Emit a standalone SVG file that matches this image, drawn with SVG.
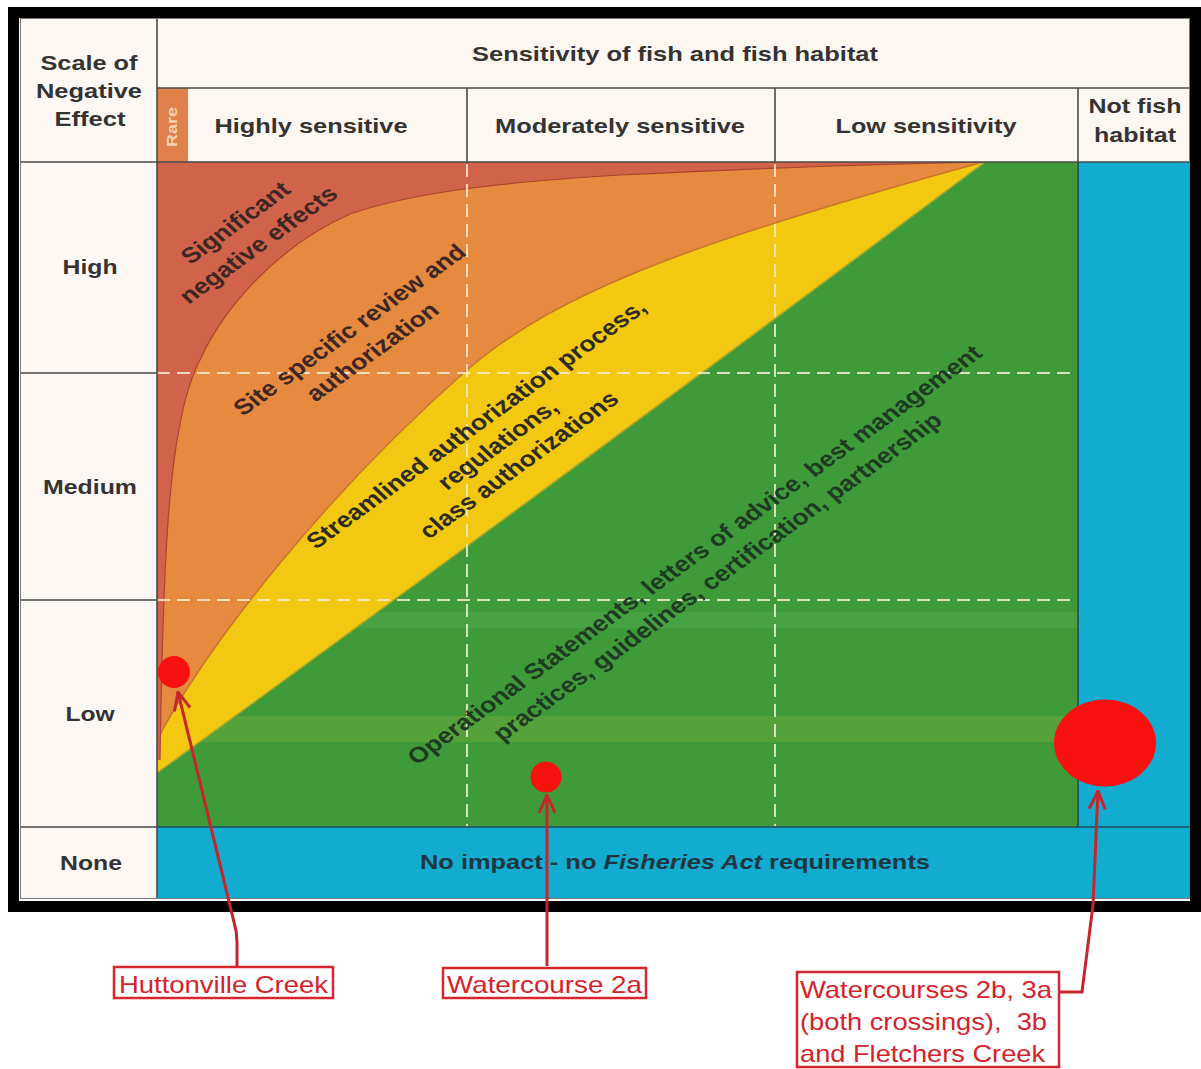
<svg xmlns="http://www.w3.org/2000/svg" width="1201" height="1069" viewBox="0 0 1201 1069">
<defs>
<style>
.hd{font-family:"Liberation Sans",Arial,sans-serif;font-weight:bold;font-size:21px;fill:#333;text-anchor:middle}
.rot{font-family:"Liberation Sans",Arial,sans-serif;font-weight:bold;font-size:22px;text-anchor:middle}
.lbl{font-family:"Liberation Sans",Arial,sans-serif;font-size:24px;fill:#d4232b;white-space:pre}
.grid{stroke:#4a4a4a;stroke-width:1.6;fill:none}
.dash{stroke:#f5ecd2;stroke-width:2;stroke-dasharray:13 7;opacity:.85;fill:none}
.site{fill:#fb1010}
.box{fill:#fff;stroke:#d9262e;stroke-width:2.5}
.conn{fill:none;stroke:#c4262b;stroke-width:3;marker-end:url(#ah)}
</style>
<marker id="ah" viewBox="0 0 20 20" refX="19" refY="10" markerWidth="20" markerHeight="20" markerUnits="userSpaceOnUse" orient="auto"><path d="M1,2 L19,10 L1,18" fill="none" stroke="#c4262b" stroke-width="3"/></marker>
<clipPath id="plot"><rect x="157" y="162" width="921" height="665"/></clipPath>
</defs>

<rect width="1201" height="1069" fill="#fff"/>

<!-- header and left column backgrounds -->
<g id="table-bg">
<rect x="20" y="18" width="1170" height="144" fill="#fdf7f1"/>
<rect x="20" y="18" width="137" height="881" fill="#fdf8f3"/>
<rect x="157" y="88" width="31" height="74" fill="#e0804a"/>
</g>

<!-- management zones -->
<g id="zones" clip-path="url(#plot)">
<rect x="157" y="162" width="921" height="665" fill="#3f9b3a"/>
<rect x="157" y="612" width="921" height="16" fill="#6cc070" opacity=".18"/>
<rect x="157" y="716" width="921" height="26" fill="#9bb83a" opacity=".25"/>
<path d="M157,773 Q560,480 985,162 L157,162 Z" fill="#f2c811"/>
<path d="M157,740 C210,640 330,490 467,370 C560,290 700,240 983,162 L157,162 Z" fill="#e58a3e"/>
<path d="M160,760 C163,560 168,420 200,360 C225,305 280,245 350,214 C420,190 520,181 620,175 C760,168 880,164 985,162 L157,162 L157,760 Z" fill="#d06349"/>
<path d="M157,773 Q560,480 985,162" fill="none" stroke="#a8a72a" stroke-width="1.5"/>
<path d="M157,740 C210,640 330,490 467,370 C560,290 700,240 983,162" fill="none" stroke="#c9742c" stroke-width="1.5"/>
<path d="M160,760 C163,560 168,420 200,360 C225,305 280,245 350,214 C420,190 520,181 620,175 C760,168 880,164 985,162" fill="none" stroke="#a9452f" stroke-width="1.2"/>
</g>

<!-- not fish habitat / no impact -->
<g id="no-impact">
<rect x="1078" y="162" width="112" height="665" fill="#12acd0"/>
<rect x="157" y="827" width="1033" height="72" fill="#12acd0"/>
</g>

<!-- dashed category guides -->
<g id="guides">
<line class="dash" x1="157" y1="373" x2="1076" y2="373"/>
<line class="dash" x1="157" y1="600" x2="1076" y2="600"/>
<line class="dash" x1="467" y1="164" x2="467" y2="826"/>
<line class="dash" x1="775" y1="164" x2="775" y2="826"/>
</g>

<!-- table rules -->
<g id="grid">
<line class="grid" x1="157" y1="18" x2="157" y2="899"/>
<line class="grid" x1="157" y1="88" x2="1190" y2="88"/>
<line class="grid" x1="20" y1="162" x2="1190" y2="162"/>
<line class="grid" x1="467" y1="88" x2="467" y2="162"/>
<line class="grid" x1="775" y1="88" x2="775" y2="162"/>
<line class="grid" x1="1078" y1="88" x2="1078" y2="162"/>
<line class="grid" x1="20" y1="373" x2="157" y2="373"/>
<line class="grid" x1="20" y1="600" x2="157" y2="600"/>
<line class="grid" x1="20" y1="827" x2="157" y2="827"/>
<line x1="157" y1="827" x2="1190" y2="827" stroke="#1d4f5c" stroke-width="1.6"/>
<line x1="1078" y1="162" x2="1078" y2="827" stroke="#1f4f45" stroke-width="1.6"/>
<rect x="20.5" y="18.5" width="1169" height="880" fill="none" stroke="#777" stroke-width="1"/>
<rect x="13.5" y="12.5" width="1182" height="894" fill="none" stroke="#000" stroke-width="11"/>
</g>

<!-- headings -->
<g id="headings">
<text class="hd" x="89" y="70" textLength="97" lengthAdjust="spacingAndGlyphs">Scale of</text>
<text class="hd" x="89" y="98" textLength="106" lengthAdjust="spacingAndGlyphs">Negative</text>
<text class="hd" x="90" y="126" textLength="71" lengthAdjust="spacingAndGlyphs">Effect</text>
<text class="hd" x="675" y="61" textLength="406" lengthAdjust="spacingAndGlyphs">Sensitivity of fish and fish habitat</text>
<text class="hd" x="311" y="133" textLength="193" lengthAdjust="spacingAndGlyphs">Highly sensitive</text>
<text class="hd" x="620" y="133" textLength="250" lengthAdjust="spacingAndGlyphs">Moderately sensitive</text>
<text class="hd" x="926" y="133" textLength="181" lengthAdjust="spacingAndGlyphs">Low sensitivity</text>
<text class="hd" x="1135" y="113" textLength="93" lengthAdjust="spacingAndGlyphs">Not fish</text>
<text class="hd" x="1135" y="142" textLength="82" lengthAdjust="spacingAndGlyphs">habitat</text>
<text class="hd" transform="translate(177,127) rotate(-90)" style="font-size:14px;fill:#f6d2b6" textLength="40" lengthAdjust="spacingAndGlyphs">Rare</text>
<text class="hd" x="90" y="274" textLength="55" lengthAdjust="spacingAndGlyphs">High</text>
<text class="hd" x="90" y="494" textLength="94" lengthAdjust="spacingAndGlyphs">Medium</text>
<text class="hd" x="90" y="721" textLength="49" lengthAdjust="spacingAndGlyphs">Low</text>
<text class="hd" x="91" y="870" textLength="62" lengthAdjust="spacingAndGlyphs">None</text>
<text class="hd" transform="translate(675,869) scale(1.21,1)" style="fill:#1f3540">No impact - no <tspan font-style="italic">Fisheries Act</tspan> requirements</text>
</g>

<!-- zone descriptions -->
<g id="zone-text">
<g transform="translate(246,233) scale(1.2,1) rotate(-41)" fill="#3e2624">
<text class="rot" x="0" y="-6">Significant</text>
<text class="rot" x="0" y="23">negative effects</text>
</g>
<g transform="translate(360,340) scale(1.2,1) rotate(-41)" fill="#3e2624">
<text class="rot" x="0" y="-6">Site specific review and</text>
<text class="rot" x="0" y="23">authorization</text>
</g>
<g transform="translate(497,444) scale(1.2,1) rotate(-41)" fill="#2d2a20">
<text class="rot" x="0" y="-19">Streamlined authorization process,</text>
<text class="rot" x="0" y="8">regulations,</text>
<text class="rot" x="0" y="35">class authorizations</text>
</g>
<g transform="translate(705,565) scale(1.2,1) rotate(-41)" fill="#1e3a22">
<text class="rot" x="0" y="-6">Operational Statements, letters of advice, best management</text>
<text class="rot" x="0" y="23">practices, guidelines, certification, partnership</text>
</g>
</g>

<!-- crossing sites -->
<g id="site-huttonville"><circle class="site" cx="174" cy="672" r="16"/></g>
<g id="site-2a"><circle class="site" cx="546" cy="777" r="15.5"/></g>
<g id="site-2b-3a-3b"><ellipse class="site" cx="1105" cy="743" rx="51" ry="43.5"/></g>

<!-- site labels -->
<g id="label-huttonville">
<rect class="box" x="114" y="967" width="219" height="31"/>
<text class="lbl" x="119" y="993" textLength="209" lengthAdjust="spacingAndGlyphs">Huttonville Creek</text>
</g>
<g id="label-2a">
<rect class="box" x="443" y="968" width="203" height="30"/>
<text class="lbl" x="447" y="993" textLength="195" lengthAdjust="spacingAndGlyphs">Watercourse 2a</text>
</g>
<g id="label-2b-3a-3b">
<rect class="box" x="797" y="972" width="262" height="95"/>
<text class="lbl" x="800" y="998" textLength="252" lengthAdjust="spacingAndGlyphs">Watercourses 2b, 3a</text>
<text class="lbl" x="800" y="1030" textLength="247" lengthAdjust="spacingAndGlyphs">(both crossings),  3b</text>
<text class="lbl" x="800" y="1062" textLength="245" lengthAdjust="spacingAndGlyphs">and Fletchers Creek</text>
</g>

<!-- leader arrows -->
<g id="connectors">
<path class="conn" d="M237,966 L237,942 Q237,932 234,922 L178,692"/>
<path class="conn" d="M547,966 L547,795"/>
<path class="conn" d="M1060,992 L1082,992 L1093,905 L1098,791"/>
</g>
</svg>
